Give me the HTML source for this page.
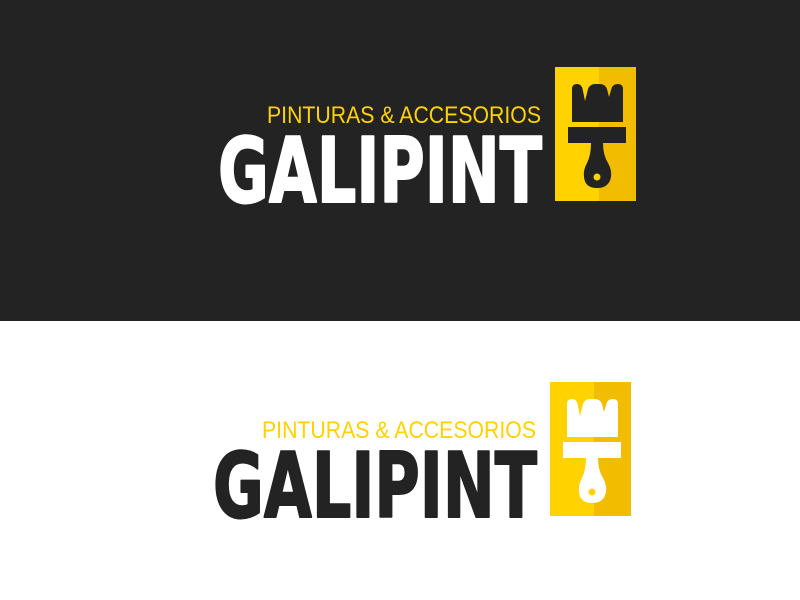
<!DOCTYPE html>
<html><head><meta charset="utf-8"><style>
html,body{margin:0;padding:0;width:800px;height:600px;overflow:hidden;background:#fff}
</style></head><body>
<svg width="800" height="600" viewBox="0 0 800 600" xmlns="http://www.w3.org/2000/svg">
  <rect x="0" y="0" width="800" height="321" fill="#232323"/>
  <g>
    <text x="267" y="123" font-family="Liberation Sans, sans-serif" font-size="24" fill="#FFD200" textLength="274" lengthAdjust="spacingAndGlyphs">PINTURAS &amp; ACCESORIOS</text>
    <text x="218" y="202" font-family="DejaVu Sans, sans-serif" font-weight="bold" font-size="90" fill="#ffffff" stroke="#ffffff" stroke-width="2" stroke-linejoin="round" textLength="324" lengthAdjust="spacingAndGlyphs">GALIPINT</text>
    <g transform="translate(555,67)">
      <rect x="0" y="0" width="81" height="134" fill="#FFD200"/>
      <rect x="44" y="0" width="37" height="134" fill="#F2BC00"/>
      <path d="M17 22 Q17 17 22 17 Q27 17 28 24 L30 34 L33 22 Q35 17 40 17 L45 17 Q50 17 52 22 L54 30 L57 20 Q59 17 63 17 Q68 17 68 22 L68 55 L17 55 Z" fill="#232323"/>
      <rect x="13" y="60" width="58" height="16" fill="#232323"/>
      <path d="M36 76 L48 76 Q48 88 53 96 Q57 103 56 110 Q54 121 42 121 Q30 121 29 110 Q28 103 32 96 Q36 88 36 76 Z" fill="#232323"/>
      <circle cx="42" cy="110" r="3.5" fill="#FFD200"/>
    </g>
  </g>
  <g>
    <text x="262" y="438" font-family="Liberation Sans, sans-serif" font-size="24" fill="#FFD200" textLength="274" lengthAdjust="spacingAndGlyphs">PINTURAS &amp; ACCESORIOS</text>
    <text x="213" y="517" font-family="DejaVu Sans, sans-serif" font-weight="bold" font-size="90" fill="#232323" stroke="#232323" stroke-width="2" stroke-linejoin="round" textLength="324" lengthAdjust="spacingAndGlyphs">GALIPINT</text>
    <g transform="translate(550,382)">
      <rect x="0" y="0" width="81" height="134" fill="#FFD200"/>
      <rect x="44" y="0" width="37" height="134" fill="#F2BC00"/>
      <path d="M17 22 Q17 17 22 17 Q27 17 28 24 L30 34 L33 22 Q35 17 40 17 L45 17 Q50 17 52 22 L54 30 L57 20 Q59 17 63 17 Q68 17 68 22 L68 55 L17 55 Z" fill="#ffffff"/>
      <rect x="13" y="60" width="58" height="16" fill="#ffffff"/>
      <path d="M36 76 L48 76 Q48 88 53 96 Q57 103 56 110 Q54 121 42 121 Q30 121 29 110 Q28 103 32 96 Q36 88 36 76 Z" fill="#ffffff"/>
      <circle cx="42" cy="110" r="3.5" fill="#FFD200"/>
    </g>
  </g>
</svg>
</body></html>
